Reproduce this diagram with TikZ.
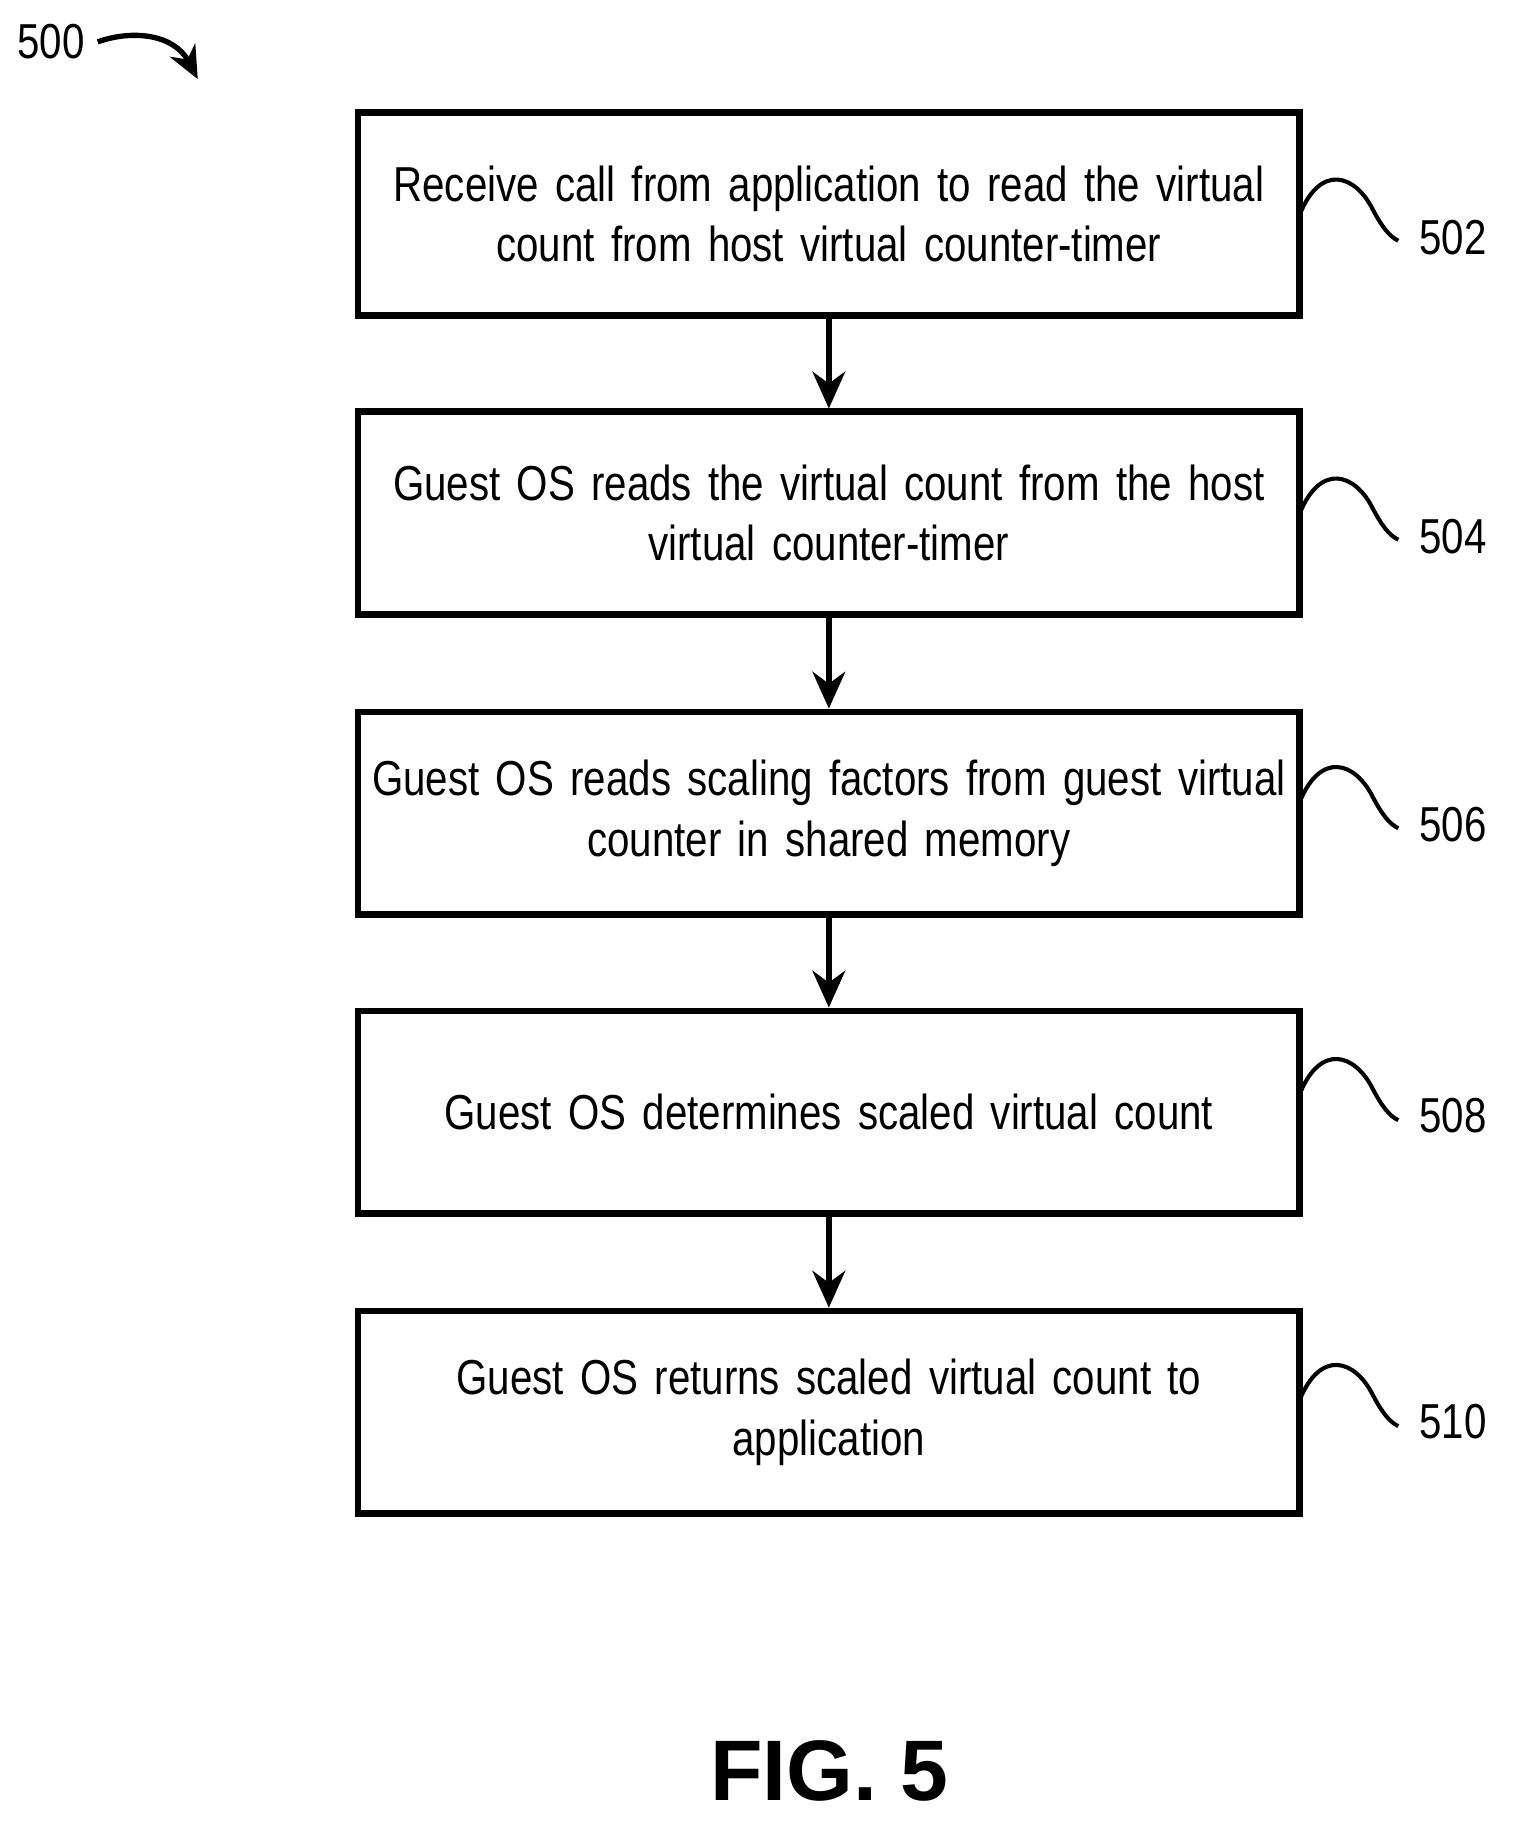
\documentclass[tikz,border=0pt]{standalone}
\usepackage{fontspec}
\setmainfont{Liberation Sans}
\newfontfamily\narrowf[FakeStretch=0.82]{Liberation Sans}
\usetikzlibrary{arrows.meta}
\begin{document}
\begin{tikzpicture}[x=0.01cm,y=-0.01cm,
  box/.style={draw,line width=1.6pt,minimum width=8.09cm,minimum height=1.74cm,text width=7.9cm,align=center,font=\narrowf\fontsize{12}{14.8}\selectfont,inner sep=0pt},
  arr/.style={-{Stealth[length=9pt,width=8pt]},line width=1.4pt},
  lbl/.style={font=\narrowf\fontsize{12}{14.8}\selectfont},
  sq/.style={line width=1pt}]
\useasboundingbox (0,0) rectangle (1300,1574);
\node[box] (b1) at (712.5,184) {Receive call from application to read the virtual\\count from host virtual counter-timer};
\node[box] (b2) at (712.5,441) {Guest OS reads the virtual count from the host\\virtual counter-timer};
\node[box] (b3) at (712.5,699) {Guest OS reads scaling factors from guest virtual\\counter in shared memory};
\node[box] (b4) at (712.5,956) {Guest OS determines scaled virtual count};
\node[box] (b5) at (712.5,1214) {Guest OS returns scaled virtual count to\\application};
\draw[arr] (b1) -- (b2);
\draw[arr] (b2) -- (b3);
\draw[arr] (b3) -- (b4);
\draw[arr] (b4) -- (b5);
\node[lbl] (n502) at (1249,204) {502};
\node[lbl] (n504) at (1249,461) {504};
\node[lbl] (n506) at (1249,709) {506};
\node[lbl] (n508) at (1249,959) {508};
\node[lbl] (n510) at (1249,1222) {510};
\foreach \y in {185,442,690,941,1204}{
  \draw[sq] (1117,\y) .. controls (1135,\y-45) and (1165,\y-35) .. (1180,\y-5) .. controls (1188,\y+10) and (1194,\y+18) .. (1202,\y+22);
}
\node[lbl] (n500) at (44,36) {500};
\coordinate (a0) at (84,36);
\coordinate (a1) at (170,68);
\draw[line width=1.3pt,-{Stealth[length=8pt,width=7pt]}] (a0) .. controls (115,25) and (150,30) .. (a1);
\node[font=\bfseries\fontsize{21}{24}\selectfont] (fig) at (713,1522) {FIG. 5};
\end{tikzpicture}
\end{document}
